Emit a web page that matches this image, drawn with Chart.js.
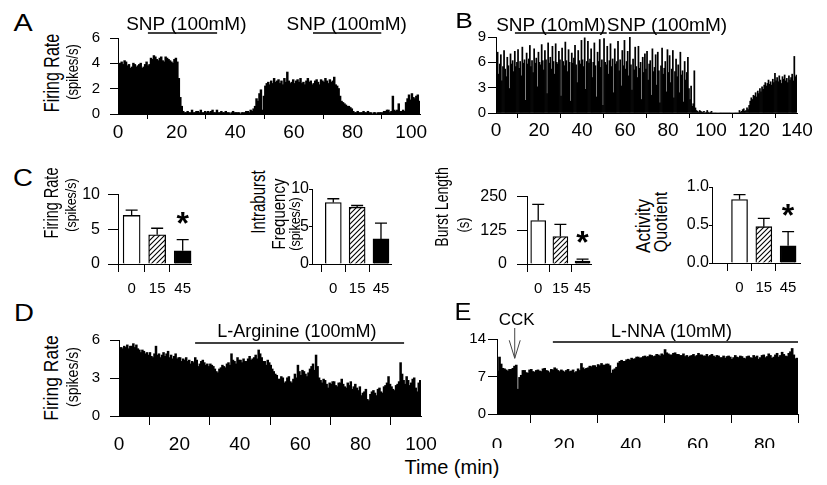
<!DOCTYPE html>
<html>
<head>
<meta charset="utf-8">
<script src="https://cdn.jsdelivr.net/npm/chart.js@4.4.0/dist/chart.umd.min.js"></script>
<style>
  body { margin: 0; background: #fff; }
  #fig { position: relative; width: 827px; height: 485px; overflow: hidden;
         font-family: 'Liberation Sans', Arial, Helvetica, sans-serif; color: #000; }
  #fig canvas { position: absolute; }
  .lbl { position: absolute; white-space: nowrap; line-height: 1; }
</style>
</head>
<body>
<div id="fig">
  <canvas id="chartA"></canvas>
  <canvas id="chartB"></canvas>
  <canvas id="chartC1"></canvas>
  <canvas id="chartC2"></canvas>
  <canvas id="chartC3"></canvas>
  <canvas id="chartC4"></canvas>
  <canvas id="chartD"></canvas>
  <canvas id="chartE"></canvas>
</div>
<script>
"use strict";

// firing rate histograms (spikes/s), 0.5 min bins
const snpA = [
  3.7, 4.0, 4.1, 3.9, 4.2, 4.1, 3.8, 3.9, 3.6, 3.7, 4.0, 3.9, 3.7, 3.8, 3.9, 4.0, 3.6, 3.7, 3.9, 4.1,
  3.8, 3.9, 4.4, 4.3, 4.6, 4.5, 4.3, 4.2, 4.4, 4.5, 4.2, 4.1, 4.5, 4.4, 4.3, 4.2, 4.1, 4.0, 4.3, 4.4,
  4.1, 2.8, 1.3, 0.6, 0.2, 0.1, 0.1, 0.2, 0.1, 0.1, 0.3, 0.1, 0.1, 0.2, 0.2, 0.1, 0.3, 0.1, 0.1, 0.2,
  0.1, 0.2, 0.1, 0.2, 0.3, 0.1, 0.1, 0.3, 0.1, 0.1, 0.2, 0.1, 0.1, 0.2, 0.1, 0.1, 0.0, 0.1, 0.2, 0.1,
  0.1, 0.1, 0.1, 0.0, 0.1, 0.1, 0.1, 0.2, 0.2, 0.1, 0.3, 0.2, 0.4, 0.6, 1.2, 1.0, 1.6, 1.9, 0.3, 1.4,
  2.2, 2.4, 2.5, 2.3, 2.6, 2.4, 2.8, 2.5, 2.6, 2.7, 2.4, 2.6, 2.3, 2.8, 2.5, 3.3, 2.6, 2.4, 2.5, 2.7,
  2.4, 2.6, 2.7, 2.5, 2.8, 2.4, 2.5, 2.3, 2.6, 2.8, 2.5, 2.6, 2.3, 2.4, 2.6, 2.7, 2.5, 2.3, 2.7, 2.6,
  2.5, 2.8, 2.6, 2.4, 2.7, 2.5, 2.6, 2.9, 2.3, 2.2, 2.0, 1.4, 1.0, 0.9, 0.8, 0.7, 0.6, 0.6, 0.5, 0.4,
  0.2, 0.1, 0.1, 0.2, 0.1, 0.1, 0.1, 0.2, 0.1, 0.1, 0.2, 0.1, 0.1, 0.0, 0.1, 0.1, 0.0, 0.1, 0.1, 0.1,
  0.1, 0.2, 0.2, 0.3, 0.3, 0.1, 0.2, 1.4, 0.3, 0.2, 0.3, 0.8, 0.2, 0.2, 0.3, 0.2, 0.9, 1.2, 1.5, 1.1,
  1.6, 1.3, 1.2, 1.4, 1.5, 1.0
];
const snpB = [
  5.4, 7.2, 4.6, 5.8, 6.9, 3.8, 5.5, 7.4, 5.2, 4.3, 6.6, 5.6, 2.9, 7.0, 5.8, 6.2, 4.9, 7.3, 5.5, 6.0,
  7.5, 5.3, 6.1, 4.4, 7.8, 5.9, 6.3, 1.5, 7.1, 5.8, 6.4, 8.0, 5.5, 6.2, 4.8, 7.6, 5.9, 6.5, 3.1, 7.2,
  6.0, 5.7, 8.1, 6.2, 5.1, 7.4, 6.3, 2.3, 8.3, 5.9, 6.6, 5.2, 7.9, 6.1, 4.6, 8.2, 6.0, 5.8, 7.3, 6.3,
  2.0, 7.7, 6.1, 5.6, 8.4, 6.2, 4.9, 7.5, 6.0, 1.4, 7.1, 5.9, 6.5, 8.0, 5.7, 3.6, 7.4, 6.2, 5.8, 8.6,
  6.3, 5.5, 8.9, 2.8, 6.1, 8.5, 5.9, 6.4, 7.6, 4.2, 6.0, 8.3, 5.6, 1.9, 7.2, 6.1, 8.7, 5.4, 6.3, 0.9,
  8.8, 6.0, 5.7, 7.9, 4.6, 6.2, 8.2, 5.5, 6.4, 2.4, 7.6, 5.8, 6.1, 8.5, 5.0, 6.3, 3.2, 7.4, 5.6, 8.6,
  5.2, 6.1, 7.3, 4.4, 9.0, 5.7, 2.7, 6.4, 5.1, 7.8, 5.5, 4.2, 7.9, 5.3, 6.0, 1.6, 6.6, 4.8, 7.0, 5.2,
  7.3, 3.9, 5.8, 6.2, 2.1, 7.6, 4.9, 5.4, 6.9, 3.3, 7.2, 5.0, 1.2, 5.6, 7.7, 4.6, 5.3, 6.1, 2.5, 7.5,
  4.8, 6.8, 3.6, 5.2, 7.4, 1.8, 4.9, 6.4, 4.3, 5.7, 2.4, 7.2, 4.5, 5.0, 1.3, 6.1, 3.9, 4.8, 6.6, 2.9,
  1.6, 3.2, 0.8, 1.1, 5.0, 0.6, 0.3, 0.2, 0.1, 0.3, 0.2, 0.1, 0.1, 0.2, 0.0, 0.1, 0.3, 0.1, 0.0, 0.1,
  0.2, 0.0, 0.0, 0.0, 0.0, 0.0, 0.0, 0.0, 0.0, 0.0, 0.0, 0.0, 0.0, 0.0, 0.0, 0.0, 0.0, 0.0, 0.0, 0.0,
  0.0, 0.0, 0.0, 0.0, 0.0, 0.0, 0.3, 0.1, 0.2, 0.4, 0.5, 0.2, 0.3, 0.6, 0.4, 0.9, 1.4, 1.8, 1.6, 2.1,
  2.0, 2.4, 1.9, 2.6, 2.3, 2.9, 2.5, 3.1, 2.8, 3.3, 3.6, 3.2, 3.5, 3.9, 3.4, 3.7, 3.3, 4.0, 3.6, 4.7,
  3.8, 4.2, 3.7, 4.4, 3.9, 3.5, 4.3, 4.0, 4.5, 3.8, 4.1, 3.6, 4.4, 3.9, 4.2, 4.6, 3.8, 6.7, 4.3, 4.5
];
const argD = [
  5.2, 5.4, 5.3, 5.5, 5.4, 5.6, 5.3, 5.5, 5.5, 5.7, 5.4, 5.6, 5.3, 5.2, 5.0, 5.2, 5.1, 4.9, 5.0, 4.8,
  5.0, 4.7, 4.6, 4.9, 5.5, 4.8, 4.9, 4.6, 4.8, 5.0, 4.7, 4.9, 5.1, 4.6, 4.8, 4.5, 4.7, 4.9, 4.5, 4.6,
  4.6, 4.3, 4.5, 4.4, 4.6, 4.3, 4.4, 4.1, 4.3, 4.2, 4.6, 4.4, 3.9, 4.1, 4.3, 4.4, 4.2, 4.0, 4.1, 3.9,
  4.1, 4.0, 3.9, 3.7, 3.5, 3.4, 3.7, 3.8, 4.0, 3.9, 3.8, 4.1, 4.2, 4.0, 4.9, 4.4, 4.3, 4.1, 4.6, 4.4,
  4.4, 4.2, 4.5, 4.3, 4.3, 4.5, 4.7, 4.4, 4.5, 4.6, 4.8, 4.5, 5.2, 4.9, 4.6, 4.3, 4.3, 4.0, 4.4, 4.2,
  4.0, 3.7, 3.5, 3.3, 3.2, 2.9, 2.9, 3.1, 3.0, 2.6, 2.7, 3.0, 3.1, 2.7, 2.6, 2.9, 3.3, 3.0, 4.0, 3.5,
  3.2, 3.6, 3.5, 3.3, 3.1, 3.4, 3.7, 3.9, 4.1, 3.6, 4.8, 3.9, 3.0, 2.8, 2.6, 2.9, 2.8, 2.5, 2.2, 2.6,
  2.5, 2.7, 2.7, 2.4, 2.3, 2.6, 2.6, 2.9, 2.5, 2.3, 2.2, 2.6, 2.4, 2.7, 2.1, 2.3, 2.5, 2.2, 2.0, 2.3,
  1.6, 1.8, 1.9, 2.1, 1.3, 1.2, 1.7, 1.9, 2.0, 1.8, 1.6, 2.1, 2.2, 1.9, 1.8, 2.3, 2.4, 2.6, 3.1, 2.5,
  2.3, 2.1, 2.0, 2.4, 2.5, 2.7, 4.2, 3.3, 2.8, 2.5, 3.1, 2.8, 2.4, 2.6, 2.9, 3.0, 2.2, 1.9, 2.6, 2.8
];
const nnaE = [
  8.0, 10.6, 9.3, 8.5, 8.4, 8.2, 8.0, 8.3, 8.3, 8.5, 8.9, 9.1, 4.6, 6.8, 7.2, 8.1, 8.1, 7.7, 7.6, 8.2,
  8.3, 7.9, 7.8, 8.1, 8.2, 8.0, 7.9, 8.4, 8.5, 8.1, 8.0, 7.7, 8.3, 8.2, 8.6, 8.4, 8.1, 7.9, 8.2, 8.0,
  7.8, 8.1, 8.3, 7.9, 8.0, 8.2, 7.7, 7.9, 8.4, 8.1, 9.4, 8.6, 8.3, 8.5, 8.6, 8.9, 8.8, 9.0, 9.0, 8.7,
  9.2, 9.0, 9.4, 9.1, 9.1, 9.3, 9.3, 9.0, 7.6, 8.2, 8.4, 8.7, 9.5, 9.8, 10.0, 9.8, 9.8, 10.1, 10.2, 10.0,
  10.4, 10.2, 10.3, 10.6, 10.6, 10.4, 10.5, 10.7, 10.8, 10.6, 10.7, 11.0, 10.9, 10.7, 10.8, 11.1, 11.0, 10.8, 11.2, 11.0,
  12.0, 11.4, 11.2, 11.0, 11.0, 11.3, 11.4, 11.1, 11.1, 10.9, 10.9, 11.2, 10.7, 10.9, 10.6, 10.8, 10.9, 11.1, 10.7, 10.9,
  11.3, 11.0, 11.0, 10.8, 10.8, 11.1, 10.7, 10.9, 11.1, 10.8, 10.6, 10.9, 10.8, 10.5, 10.5, 10.8, 10.4, 10.7, 10.8, 10.6,
  10.2, 10.5, 10.9, 10.6, 10.5, 10.8, 10.7, 10.4, 10.3, 10.7, 10.8, 10.5, 10.4, 10.9, 10.6, 10.8, 10.2, 10.5, 10.9, 11.0,
  10.5, 10.7, 11.2, 10.9, 10.4, 10.6, 11.0, 11.3, 10.6, 10.9, 11.5, 11.1, 10.8, 10.7, 11.3, 11.6, 12.2, 11.0, 10.3, 10.4
];

// drug application periods (min)
const aTreatments = [
  { label: 'SNP (100mM)', from: 10.2, to: 33.8, at: 23.3 },
  { label: 'SNP (100mM)', from: 66.5, to: 89.8, at: 78.0 }
];
const bTreatments = [
  { label: 'SNP (10mM)', from: 8.8, to: 51.5, at: 25.6 },
  { label: 'SNP (100mM)', from: 52.5, to: 99.5, at: 79.5 }
];
const dTreatments = [{ label: 'L-Arginine (100mM)', from: 25.2, to: 94.4, at: 58.9 }];
const eTreatments = [{ label: 'L-NNA (10mM)', from: 16.7, to: 90, at: 52.2 }];
const cckTime = 5.3;
const cckTipRate = 10.4;

// panel C summary (mean, s.e.m.) per SNP dose
const doses = ['0', '15', '45'];
const rateMean = [7.0, 4.2, 1.9];
const rateSem = [0.75, 0.95, 1.6];
const rateSig = [false, false, true];
const intraMean = [8.2, 7.55, 3.35];
const intraSem = [0.5, 0.25, 2.1];
const intraSig = [false, false, false];
const burstMean = [161, 102, 11];
const burstSem = [60, 45, 7];
const burstSig = [false, false, true];
const activityMean = [0.835, 0.478, 0.226];
const activitySem = [0.065, 0.11, 0.187];
const activitySig = [false, false, true];

const FONT = "'Liberation Sans', Arial, Helvetica, sans-serif";
Chart.defaults.font.family = FONT;
Chart.defaults.color = '#000';

const treatmentPlugin = {
  id: 'treatments',
  afterDraw(chart, args, o) {
    const { ctx, chartArea } = chart;
    const x = chart.scales.x;
    ctx.save();
    ctx.strokeStyle = '#000';
    ctx.fillStyle = '#000';
    ctx.lineWidth = 1.3;
    ctx.font = (o.size || 19) + 'px ' + FONT;
    ctx.textAlign = 'center';
    ctx.textBaseline = 'alphabetic';
    (o.items || []).forEach(t => {
      const y = chartArea.top + o.lineDy;
      ctx.beginPath();
      ctx.moveTo(x.getPixelForValue(t.from), y);
      ctx.lineTo(x.getPixelForValue(t.to), y);
      ctx.stroke();
      ctx.fillText(t.label, x.getPixelForValue(t.at), chartArea.top + o.textDy);
    });
    if (o.arrowAt !== undefined) {
      const ax = x.getPixelForValue(o.arrowAt);
      const tip = chart.scales.y.getPixelForValue(o.arrowTip);
      ctx.font = '17px ' + FONT;
      ctx.fillText(o.arrowLabel, ax + 2, chartArea.top - 14);
      ctx.strokeStyle = '#444';
      ctx.lineWidth = 1;
      ctx.beginPath();
      ctx.moveTo(ax, chartArea.top - 11);
      ctx.lineTo(ax, tip);
      ctx.moveTo(ax - 5.5, tip - 18);
      ctx.lineTo(ax, tip);
      ctx.lineTo(ax + 5.5, tip - 18);
      ctx.stroke();
    }
    ctx.restore();
  }
};

const errorBarPlugin = {
  id: 'errorBars',
  afterDatasetsDraw(chart, args, o) {
    if (!o.sem) return;
    const { ctx } = chart;
    const y = chart.scales.y;
    const bars = chart.getDatasetMeta(0).data;
    ctx.save();
    ctx.strokeStyle = '#000';
    ctx.fillStyle = '#000';
    ctx.lineWidth = 1.3;
    bars.forEach((bar, i) => {
      const top = y.getPixelForValue(o.mean[i] + o.sem[i]);
      ctx.beginPath();
      ctx.moveTo(bar.x, bar.y);
      ctx.lineTo(bar.x, top);
      ctx.moveTo(bar.x - 6, top);
      ctx.lineTo(bar.x + 6, top);
      ctx.stroke();
      if (o.sig[i]) {
        ctx.font = 'bold 32px ' + FONT;
        ctx.textAlign = 'center';
        ctx.fillText('*', bar.x, top - 6);
      }
    });
    ctx.restore();
  }
};

function fitCanvas(id, box, yW, xH, padT, padR) {
  const c = document.getElementById(id);
  c.width = box[2] - box[0] + yW + padR;
  c.height = box[3] - box[1] + padT + xH;
  c.style.left = (box[0] - yW) + 'px';
  c.style.top = (box[1] - padT) + 'px';
  return c;
}

function axisStyle(tickLength) {
  return {
    border: { color: '#000', width: 1 },
    grid: { drawOnChartArea: false, color: '#000', tickLength: tickLength, tickWidth: 1 }
  };
}

function histogram(id, values, binMin, g, marks) {
  const canvas = fitCanvas(id, g.box, g.yW, g.xH, 30, 24);
  return new Chart(canvas, {
    type: 'bar',
    data: {
      datasets: [{
        data: values.map((v, i) => ({ x: (i + 0.5) * binMin, y: v })),
        backgroundColor: '#000',
        borderWidth: 0,
        barPercentage: 1,
        categoryPercentage: 1,
        inflateAmount: g.inflate
      }]
    },
    options: {
      responsive: false,
      animation: false,
      events: [],
      layout: { padding: { top: 30, right: 24, left: 0, bottom: 0 } },
      plugins: { legend: { display: false }, tooltip: { enabled: false }, treatments: marks },
      scales: {
        x: Object.assign(axisStyle(g.xTick), {
          type: 'linear', min: 0, max: g.xMax, offset: false,
          ticks: { stepSize: 20, includeBounds: false, maxRotation: 0, padding: g.xPad, font: { size: 19 } },
          afterFit: s => { s.height = g.xH; }
        }),
        y: Object.assign(axisStyle(g.yTick), {
          min: 0, max: g.yMax,
          ticks: { stepSize: g.yStep, padding: g.yPad, font: { size: 15 } },
          afterFit: s => { s.width = g.yW; }
        })
      }
    },
    plugins: [treatmentPlugin]
  });
}

function hatch() {
  const p = document.createElement('canvas');
  p.width = 5; p.height = 5;
  const g = p.getContext('2d');
  g.fillStyle = '#fff';
  g.fillRect(0, 0, 5, 5);
  g.strokeStyle = '#000';
  g.lineWidth = 1.1;
  g.beginPath();
  g.moveTo(0, 5); g.lineTo(5, 0);
  g.moveTo(-1, 1); g.lineTo(1, -1);
  g.moveTo(4, 6); g.lineTo(6, 4);
  g.stroke();
  return g.createPattern(p, 'repeat');
}

function doseBars(id, mean, sem, sig, g) {
  const canvas = fitCanvas(id, g.box, g.yW, 34, 12, 8);
  return new Chart(canvas, {
    type: 'bar',
    data: {
      datasets: [{
        data: mean.map((v, i) => ({ x: i, y: v })),
        backgroundColor: ['#fff', hatch(), '#000'],
        borderColor: '#000',
        borderWidth: 1.3,
        barThickness: g.barW
      }]
    },
    options: {
      responsive: false,
      animation: false,
      events: [],
      layout: { padding: { top: 12, right: 8, left: 0, bottom: 0 } },
      plugins: {
        legend: { display: false }, tooltip: { enabled: false },
        errorBars: { mean: mean, sem: sem, sig: sig }
      },
      scales: {
        x: Object.assign(axisStyle(8), {
          type: 'linear', min: g.xMin, max: g.xMax, offset: false,
          afterBuildTicks: s => { s.ticks = doses.map((d, i) => ({ value: i })); },
          ticks: { padding: 8, maxRotation: 0, font: { size: 15 }, callback: v => doses[v] },
          afterFit: s => { s.height = 34; }
        }),
        y: Object.assign(axisStyle(g.yTick), {
          min: 0, max: g.yMax,
          ticks: { stepSize: g.yStep, padding: g.yPad, font: { size: 16 }, callback: g.fmt || (v => v) },
          afterFit: s => { s.width = g.yW; }
        })
      }
    },
    plugins: [errorBarPlugin]
  });
}

histogram('chartA', snpA, 0.5,
  { box: [118, 38, 420, 114], yW: 45, xH: 34, xMax: 103, yMax: 6, yStep: 2, xTick: 5, xPad: 2, yTick: 8, yPad: 10, inflate: 0.5 },
  { items: aTreatments, lineDy: -5, textDy: -8 });
histogram('chartB', snpB, 0.5,
  { box: [496, 37, 797, 113], yW: 40, xH: 34, xMax: 140, yMax: 9, yStep: 3, xTick: 5, xPad: 1, yTick: 8, yPad: 2, inflate: 'auto' },
  { items: bTreatments, lineDy: -4, textDy: -6 });
histogram('chartD', argD, 0.5,
  { box: [119, 340, 421, 416], yW: 45, xH: 34, xMax: 100, yMax: 6, yStep: 3, xTick: 9, xPad: 8, yTick: 9, yPad: 10, inflate: 0.5 },
  { items: dTreatments, lineDy: 3, textDy: -3, size: 18 });
histogram('chartE', nnaE, 0.5,
  { box: [497, 339, 798, 414], yW: 40, xH: 34, xMax: 90, yMax: 14, yStep: 7, xTick: 9, xPad: 11, yTick: 9, yPad: 2, inflate: 0.5 },
  { items: eTreatments, lineDy: 3, textDy: -2, size: 18,
    arrowAt: cckTime, arrowTip: cckTipRate, arrowLabel: 'CCK' });

doseBars('chartC1', rateMean, rateSem, rateSig,
  { box: [118, 189, 192, 264], yW: 40, yTick: 10, yPad: 8, xMin: -0.534, xMax: 2.35, yMax: 10, yStep: 5, barW: 17 });
doseBars('chartC2', intraMean, intraSem, intraSig,
  { box: [312, 189, 391, 264], yW: 30, yTick: 3, yPad: 0, xMin: -0.893, xMax: 2.42, yMax: 10, yStep: 5, barW: 16 });
doseBars('chartC3', burstMean, burstSem, burstSig,
  { box: [527, 189, 592, 264], yW: 56, yTick: 10, yPad: 10, xMin: -0.506, xMax: 2.40, yMax: 250, yStep: 125, barW: 15 });
doseBars('chartC4', activityMean, activitySem, activitySig,
  { box: [712, 187, 800, 263], yW: 36, yTick: 3, yPad: 0, xMin: -1.134, xMax: 2.49, yMax: 1, yStep: 0.5, barW: 16,
    fmt: v => v.toFixed(1) });

// panel letters and axis titles (the printed figure is a little wider than tall, hence the stretch)
const fig = document.getElementById('fig');
function addText(txt, cx, cy, size, rotated, stretch) {
  const d = document.createElement('div');
  d.className = 'lbl';
  d.textContent = txt;
  d.style.left = cx + 'px';
  d.style.top = cy + 'px';
  d.style.fontSize = size + 'px';
  const k = stretch || 1;
  d.style.transform = rotated
    ? 'translate(-50%, -50%) rotate(-90deg) scaleY(' + k + ')'
    : 'translate(-50%, -50%) scaleX(' + k + ')';
  fig.appendChild(d);
}
addText('A', 23, 23, 23, false, 1.25);
addText('B', 464, 21, 22, false, 1.2);
addText('C', 23, 178, 23, false, 1.2);
addText('D', 24, 313, 23, false, 1.2);
addText('E', 463, 312, 23, false, 1.1);
addText('Time (min)', 452, 467, 20);

addText('Firing Rate', 52, 73, 16, true, 1.35);
addText('(spikes/s)', 72, 72, 13, true, 1.25);
addText('Firing Rate', 52, 378, 17.5, true, 1.2);
addText('(spikes/s)', 72, 377, 14, true, 1.15);
addText('Firing Rate', 52, 203, 14.5, true, 1.35);
addText('(spikes/s)', 71, 205, 12.5, true, 1.2);
addText('Intraburst', 258, 202, 15, true, 1.35);
addText('Frequency', 278, 214, 15, true, 1.25);
addText('(spikes/s)', 296, 224, 12.5, true, 1.15);
addText('Burst Length', 442, 207, 14, true, 1.3);
addText('(s)', 464, 225, 13, true, 1.2);
addText('Activity', 643, 226, 17, true, 1.2);
addText('Quotient', 661, 222, 16, true, 1.2);
</script>
</body>
</html>
